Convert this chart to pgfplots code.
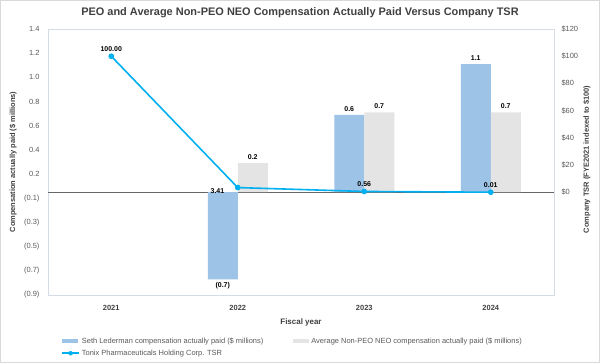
\documentclass[border=0pt]{standalone}
\usepackage{fontspec}
\setmainfont{Liberation Sans}
\usepackage{pgfplots}
\pgfplotsset{compat=1.18}
\definecolor{peo}{HTML}{9DC3E6}
\definecolor{neo}{HTML}{E4E4E4}
\definecolor{tsr}{HTML}{00B0F0}
\definecolor{txt}{HTML}{595959}
\definecolor{lbl}{HTML}{404040}
\definecolor{frm}{HTML}{D6DCE5}
\begin{document}
\begin{tikzpicture}[x=1bp,y=1bp]
\useasboundingbox (0,0) rectangle (600,363);
\draw[black!15, line width=1bp] (0.5,0.5) rectangle (599.5,362.5);
\node[font=\fontsize{11}{13}\selectfont\bfseries, text=lbl] at (300,350) {PEO and Average Non-PEO NEO Compensation Actually Paid Versus Company TSR};
\begin{axis}[
  at={(48bp,68bp)}, anchor=south west, scale only axis, width=506bp, height=266bp,
  xmin=-0.5, xmax=3.5, ymin=-0.85, ymax=1.35,
  clip=false,
  ybar=0pt, bar width=30bp,
  xtick={0,1,2,3}, xticklabels={2021,2022,2023,2024},
  ytick={-0.85,-0.65,-0.45,-0.25,-0.05,0.15,0.35,0.55,0.75,0.95,1.15,1.35},
  yticklabels={(0.9),(0.7),(0.5),(0.3),(0.1),0.2,0.4,0.6,0.8,1.0,1.2,1.4},
  major tick length=0pt,
  axis line style={draw=frm},
  /pgf/number format/assume math mode=true,
  yticklabel style={font=\fontsize{7.5}{9}\selectfont, text=txt, xshift=-5bp},
  xticklabel style={font=\fontsize{7.5}{9}\selectfont\bfseries, text=lbl, yshift=-7bp},
  xlabel={Fiscal year},
  xlabel style={font=\fontsize{8}{9}\selectfont\bfseries, text=lbl, at={(axis description cs:0.5,-0.105)}, anchor=center},
  ylabel={Compensation actually paid (\$ millions)},
  ylabel style={font=\fontsize{7.5}{9}\selectfont\bfseries, text=lbl, at={(axis description cs:-0.069,0.5)}, anchor=center, rotate=0},
  extra y ticks={0}, extra y tick labels={},
  extra y tick style={grid=major, major grid style={draw=black!60, line width=1bp}},
  nodes near coords, point meta=explicit symbolic,
  visualization depends on={value \thisrow{anc} \as \anc},
  nodes near coords style={font=\fontsize{7}{8}\selectfont\bfseries, text=black, anchor=\anc},
  legend columns=2,
  legend style={at={(0.02,-0.145)}, anchor=north west, draw=none, fill=none,
    font=\fontsize{7.5}{9}\selectfont, text=txt, row sep=1bp,
    /tikz/every even column/.append style={column sep=28bp}},
  legend cell align=left,
]
\addplot[fill=peo, draw=none,
  legend image code/.code={\fill[peo] (0bp,-2bp) rectangle (16bp,2bp);}]
  table[x=x, y=y, meta=lab] {
x y lab anc
1 -0.72 (0.7) north
2 0.64 0.6 south
3 1.06 1.1 south
};
\addlegendentry{Seth Lederman compensation actually paid (\$ millions)}
\addplot[fill=neo, draw=none,
  legend image code/.code={\fill[neo] (0bp,-2bp) rectangle (16bp,2bp);}]
  table[x=x, y=y, meta=lab] {
x y lab anc
1 0.24 0.2 south
2 0.66 0.7 south
3 0.66 0.7 south
};
\addlegendentry{Average Non-PEO NEO compensation actually paid (\$ millions)}
\addlegendimage{legend image code/.code={\draw[tsr, line width=1.6bp] (0bp,0bp) -- (17bp,0bp); \fill[tsr] (8.5bp,0bp) circle (2bp);}}
\addlegendentry{Tonix Pharmaceuticals Holding Corp. TSR}
\end{axis}
\begin{axis}[
  at={(48bp,68bp)}, anchor=south west, scale only axis, width=506bp, height=266bp,
  xmin=-0.5, xmax=3.5, ymin=-75.56, ymax=120,
  clip=false,
  axis x line=none, axis y line*=right,
  ytick={0,20,40,60,80,100,120},
  yticklabels={\$0,\$20,\$40,\$60,\$80,\$100,\$120},
  major tick length=0pt,
  axis line style={draw=frm},
  /pgf/number format/assume math mode=true,
  yticklabel style={font=\fontsize{7.5}{9}\selectfont, text=txt, xshift=4bp},
  ylabel={Company TSR (FYE2021 indexed to \$100)},
  ylabel style={font=\fontsize{7.5}{9}\selectfont\bfseries, text=lbl, at={(axis description cs:1.065,0.51)}, anchor=center, rotate=0},
]
\addplot[tsr, line width=1.6bp, mark=*, mark size=2bp] coordinates {(0,100) (1,3.41) (2,0.56) (3,0.01)};
\addplot[draw=none, nodes near coords, point meta=explicit symbolic,
  nodes near coords style={font=\fontsize{7}{8}\selectfont\bfseries, text=black, anchor=south, yshift=1bp}]
  coordinates {(0,100) [100.00] (2,0.56) [0.56] (3,0.01) [0.01]};
\addplot[draw=none, nodes near coords, point meta=explicit symbolic,
  nodes near coords style={font=\fontsize{7}{8}\selectfont\bfseries, text=black, anchor=east, xshift=-10bp, yshift=-4bp}]
  coordinates {(1,3.41) [3.41]};
\end{axis}
\end{tikzpicture}
\end{document}
